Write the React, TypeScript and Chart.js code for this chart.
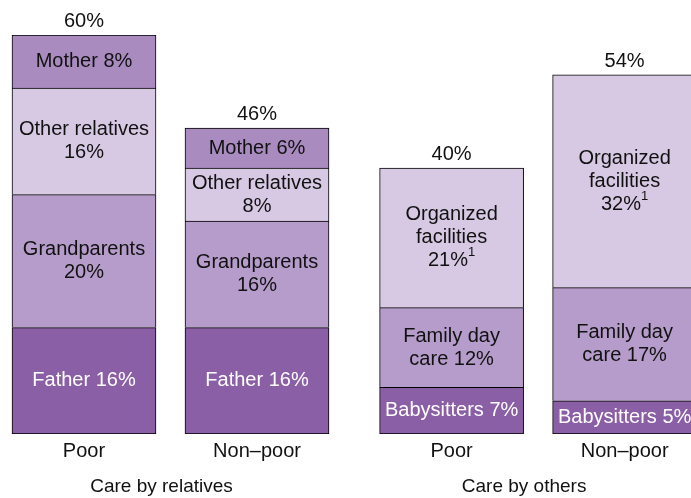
import React, { useEffect, useRef } from "react";
import { Chart, registerables } from "chart.js";

Chart.register(...registerables);

// ---- data ----
const barLabels = ["Poor", "Non–poor", "Poor", "Non–poor"];
const barGroup = [0, 0, 1, 1];
const groupLabels = ["Care by relatives", "Care by others"];

// stacked layers, bottom to top
const layer0 = [16, 16, 7, 5];
const layer1 = [20, 16, 12, 17];
const layer2 = [16, 8, 21, 32];
const layer3: (number | null)[] = [8, 6, null, null];
const totals = [60, 46, 40, 54];

const layer0Names = ["Father", "Father", "Babysitters", "Babysitters"];
const layer1Names = ["Grandparents", "Grandparents", "Family day\ncare", "Family day\ncare"];
const layer2Names = ["Other relatives", "Other relatives", "Organized\nfacilities", "Organized\nfacilities"];
const layer3Names = ["Mother", "Mother", "", ""];

const layer0Sep = [" ", " ", " ", " "];
const layer1Sep = ["\n", "\n", " ", " "];
const layer2Sep = ["\n", "\n", "\n", "\n"];
const layer3Sep = [" ", " ", " ", " "];

const layer2Notes = ["", "", "1", "1"];

// ---- styles ----
const FONT = "'Liberation Sans', Arial, Helvetica, sans-serif";
const GROUP_GAP = 0.125;
const layerColors = ["#8a5fa6", "#b69cca", "#d7c9e3", "#a98bbf"];
const layerTextColors = ["#ffffff", "#111111", "#111111", "#111111"];

const xPos = barGroup.map((g, i) => i + g * GROUP_GAP);

const layers = [layer0, layer1, layer2, layer3];
const layerNames = [layer0Names, layer1Names, layer2Names, layer3Names];
const layerSeps = [layer0Sep, layer1Sep, layer2Sep, layer3Sep];
const layerNotes = [["", "", "", ""], ["", "", "", ""], layer2Notes, ["", "", "", ""]];

const labelPlugin = {
  id: "segmentLabels",
  afterDatasetsDraw(chart: any) {
    const ctx = chart.ctx as CanvasRenderingContext2D;
    const xScale = chart.scales.x;
    const area = chart.chartArea;
    ctx.save();
    const mainFont = `20px ${FONT}`;
    const supFont = `13px ${FONT}`;
    const lineH = 23;
    const topY: number[] = [];

    chart.data.datasets.forEach((ds: any, di: number) => {
      const meta = chart.getDatasetMeta(di);
      meta.data.forEach((el: any, i: number) => {
        const v = layers[di][i];
        if (v == null) return;
        const props = el.getProps(["x", "y", "base"], true);
        topY[i] = topY[i] === undefined ? props.y : Math.min(topY[i], props.y);
        const text = layerNames[di][i] + layerSeps[di][i] + v + "%";
        const lines = text.split("\n");
        const note = layerNotes[di][i];
        const cy = (props.y + props.base) / 2;
        ctx.fillStyle = layerTextColors[di];
        ctx.textBaseline = "middle";
        lines.forEach((ln, li) => {
          const y = cy - ((lines.length - 1) * lineH) / 2 + li * lineH;
          const isLast = li === lines.length - 1;
          ctx.font = mainFont;
          const w = ctx.measureText(ln).width;
          let sw = 0;
          if (isLast && note) {
            ctx.font = supFont;
            sw = ctx.measureText(note).width;
          }
          const x0 = props.x - (w + sw) / 2;
          ctx.font = mainFont;
          ctx.textAlign = "left";
          ctx.fillText(ln, x0, y);
          if (isLast && note) {
            ctx.font = supFont;
            ctx.fillText(note, x0 + w, y - 8);
          }
        });
      });
    });

    // totals above bars
    ctx.fillStyle = "#111111";
    ctx.font = mainFont;
    ctx.textAlign = "center";
    ctx.textBaseline = "alphabetic";
    totals.forEach((t, i) => {
      const x = xScale.getPixelForValue(xPos[i]);
      ctx.fillText(t + "%", x, topY[i] - 8);
    });

    // bar (tick) labels
    barLabels.forEach((lb, i) => {
      const x = xScale.getPixelForValue(xPos[i]);
      ctx.fillText(lb, x, area.bottom + 23);
    });

    // group labels
    ctx.font = `19px ${FONT}`;
    const groupOffset = [-9, -14];
    groupLabels.forEach((lb, g) => {
      const idx = barGroup.map((bg, i) => (bg === g ? i : -1)).filter((i) => i >= 0);
      const px = idx.map((i) => xScale.getPixelForValue(xPos[i]));
      const cx = px.reduce((a, b) => a + b, 0) / px.length + groupOffset[g];
      ctx.fillText(lb, cx, area.bottom + 58);
    });
    ctx.restore();
  },
};

export default function App() {
  const canvasRef = useRef<HTMLCanvasElement | null>(null);

  useEffect(() => {
    if (!canvasRef.current) return;
    const datasets = layers.map((layer, li) => ({
      label: "layer" + li,
      data: layer.map((v, i) => ({ x: xPos[i], y: v })),
      backgroundColor: layerColors[li],
      borderColor: "#000000",
      borderWidth: 1,
      borderSkipped: li === 0 ? (false as const) : ("bottom" as const),
      barThickness: 144,
    }));
    const chart = new Chart(canvasRef.current, {
      type: "bar",
      data: { datasets: datasets as any },
      options: {
        animation: false,
        responsive: true,
        maintainAspectRatio: false,
        layout: { padding: { top: 35, bottom: 64, left: 0, right: 0 } },
        plugins: { legend: { display: false }, tooltip: { enabled: false } },
        scales: {
          x: { type: "linear", display: false, stacked: true, offset: false, min: -0.4855, max: 3.5087 },
          y: { display: false, stacked: true, min: 0, max: 60 },
        },
      },
      plugins: [labelPlugin],
    });
    return () => chart.destroy();
  }, []);

  return (
    <div style={{ position: "absolute", left: 0, top: 0, width: 691, height: 498, background: "#ffffff" }}>
      <canvas ref={canvasRef} />
    </div>
  );
}
